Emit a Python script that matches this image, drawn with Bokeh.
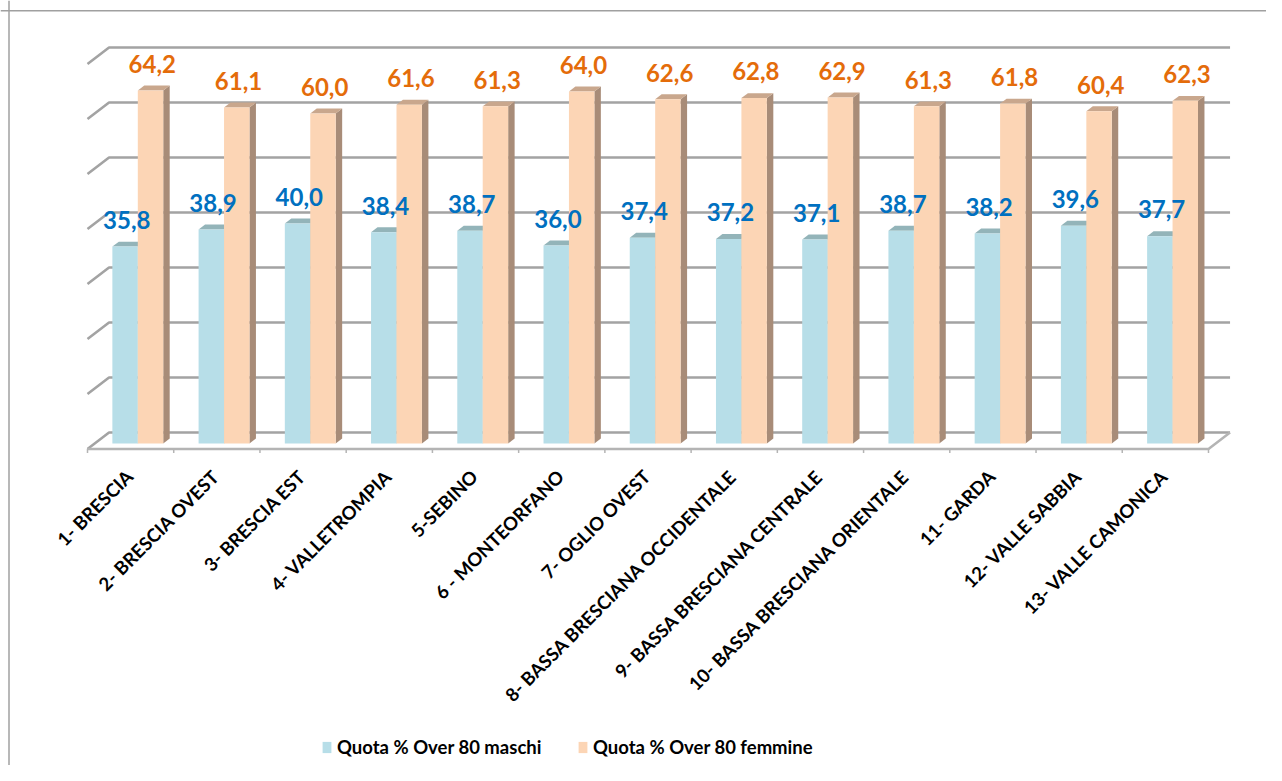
import math
from bokeh.plotting import figure
from bokeh.models import Range1d, Span, Legend, LegendItem, ColumnDataSource
from bokeh.core.properties import value
from bokeh.embed import file_html
from bokeh.resources import INLINE

# ---------------- data ----------------
categories = ["1- BRESCIA", "2- BRESCIA OVEST", "3- BRESCIA EST", "4- VALLETROMPIA",
              "5-SEBINO", "6 - MONTEORFANO", "7- OGLIO OVEST",
              "8- BASSA BRESCIANA OCCIDENTALE", "9- BASSA BRESCIANA CENTRALE",
              "10- BASSA BRESCIANA ORIENTALE", "11- GARDA", "12- VALLE SABBIA",
              "13- VALLE CAMONICA"]
maschi = [35.8, 38.9, 40.0, 38.4, 38.7, 36.0, 37.4, 37.2, 37.1, 38.7, 38.2, 39.6, 37.7]
femmine = [64.2, 61.1, 60.0, 61.6, 61.3, 64.0, 62.6, 62.8, 62.9, 61.3, 61.8, 60.4, 62.3]
series_names = ["Quota % Over 80 maschi", "Quota % Over 80 femmine"]
grid_values = [0, 10, 20, 30, 40, 50, 60, 70]

# ---------------- layout / style ----------------
W, H = 1266, 765
PX_U, PX_V = 86.23, 5.5          # pixels per category unit / per value unit
OX, OY = 87, 443                 # canvas pixel of (u=0, v=0)
DU, DV = 0.25, 3.0               # full floor depth (oblique projection)
FLOOR_V = -1.0                   # front floor edge (value units)
Z0, ZD = 1.0 / 3.0, 0.30         # bar front depth and bar depth
BW = 0.295                       # bar width

C_BLUE, C_BLUE_TOP = "#b7dee8", "#93b4b9"
C_ORA, C_ORA_TOP, C_ORA_SIDE = "#fcd5b5", "#c9a78d", "#a88c78"
C_GRID = "#a3a3a3"
C_LBL_BLUE, C_LBL_ORA = "#0070c0", "#e46c0a"
FONT_NAME = "Lato"
FONT = value(FONT_NAME)

n = len(categories)

def u_of_canvas(px):
    return (px - OX) / PX_U

def v_of_canvas(py):
    return (OY - py) / PX_V

p = figure(width=W, height=H, output_backend="svg", toolbar_location=None,
           x_range=Range1d(u_of_canvas(0), u_of_canvas(W)),
           y_range=Range1d(v_of_canvas(H), v_of_canvas(0)),
           x_axis_location=None, y_axis_location=None,
           min_border=0, outline_line_color=None, tools="")
p.grid.visible = False
p.background_fill_color = "white"
p.border_fill_color = "white"

# chart border (left and top visible)
p.add_layout(Span(location=u_of_canvas(8.5), dimension="height", line_color="#a0a0a0", line_width=1.5))
p.add_layout(Span(location=v_of_canvas(10.2), dimension="width", line_color="#a0a0a0", line_width=1.5))

# ---------------- walls / floor ----------------
gxs, gys = [], []
for g in grid_values:
    back = g + FLOOR_V + DV
    gxs.append([0, DU, n + DU])
    gys.append([g + FLOOR_V, back, back])
p.multi_line(gxs, gys, line_color=C_GRID, line_width=2.6)

# floor front edge and right edge
p.line([0, n, n + DU], [FLOOR_V, FLOOR_V, FLOOR_V + DV], line_color="#b4b4b4", line_width=2.5)
# ticks
tick_len = 4 / PX_V
p.segment(x0=list(range(n + 1)), y0=[FLOOR_V] * (n + 1),
          x1=list(range(n + 1)), y1=[FLOOR_V - tick_len] * (n + 1),
          line_color="#b4b4b4", line_width=1.5)

# ---------------- bars ----------------
def bar_geom(offset, vals):
    xl = [i + 0.5 + offset + Z0 * DU for i in range(n)]
    xr = [x + BW for x in xl]
    bottom = Z0 * DV + FLOOR_V
    dx, dy = ZD * DU, ZD * DV
    top_xs = [[a, b, b + dx, a + dx] for a, b in zip(xl, xr)]
    top_ys = [[v, v, v + dy, v + dy] for v in vals]
    side_xs = [[b, b, b + dx, b + dx] for b in xr]
    side_ys = [[bottom, v, v + dy, bottom + dy] for v in vals]
    centers = [(a + b) / 2 for a, b in zip(xl, xr)]
    return centers, bottom, top_xs, top_ys, side_xs, side_ys

renderers = []
for vals, off, c_front, c_top, c_side in [
        (maschi, -BW, C_BLUE, C_BLUE_TOP, C_BLUE_TOP),
        (femmine, 0.0, C_ORA, C_ORA_TOP, C_ORA_SIDE)]:
    centers, bottom, txs, tys, sxs, sys_ = bar_geom(off, vals)
    p.patches(sxs, sys_, fill_color=c_side, line_color=None)
    p.patches(txs, tys, fill_color=c_top, line_color=None)
    r = p.vbar(x=centers, width=BW, bottom=bottom, top=vals,
               fill_color=c_front, line_color=None)
    renderers.append(r)

# data labels
for vals, off, c_lbl in [(maschi, -BW, C_LBL_BLUE), (femmine, 0.0, C_LBL_ORA)]:
    centers = [i + 0.5 + off + Z0 * DU + BW / 2 + 0.02 for i in range(n)]
    src = ColumnDataSource(dict(x=centers, y=[v + 4.85 for v in vals],
                                t=[f"{v:.1f}".replace(".", ",") for v in vals]))
    p.text(x="x", y="y", text="t", source=src, text_color=c_lbl,
           text_font=FONT, text_font_style="bold", text_font_size="24px",
           text_align="center", text_baseline="middle")

# category labels
csrc = ColumnDataSource(dict(x=[i + 0.485 for i in range(n)], y=[-5.4] * n, t=categories))
p.text(x="x", y="y", text="t", source=csrc, angle=math.pi / 4,
       text_font=FONT, text_font_style="bold", text_font_size="18.5px",
       text_color="black", text_align="right", text_baseline="middle")

# legends
for r, name, xloc in [(renderers[0], series_names[0], 321), (renderers[1], series_names[1], 577)]:
    lg = Legend(items=[LegendItem(label=name, renderers=[r])], location=(xloc, 7),
                orientation="horizontal", margin=0, padding=0,
                border_line_color=None, background_fill_alpha=0,
                glyph_width=11, glyph_height=14, label_standoff=5,
                label_text_font=FONT_NAME, label_text_font_style="bold",
                label_text_font_size="18.5px", label_text_color="black",
                label_height=20)
    p.add_layout(lg, "center")

open("out.html", "w").write(file_html(p, INLINE))
